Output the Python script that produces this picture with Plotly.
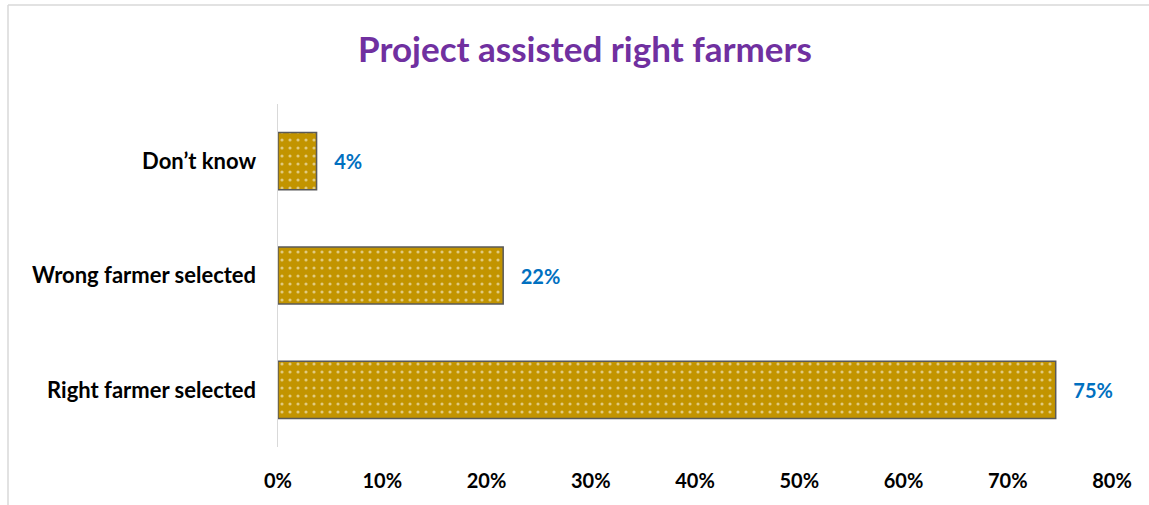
import plotly.graph_objects as go

categories = ["Right farmer selected", "Wrong farmer selected", "Don\u2019t know"]
values = [74.6, 21.6, 3.7]
tick_vals = [0, 10, 20, 30, 40, 50, 60, 70, 80]
tick_text = ["0%", "10%", "20%", "30%", "40%", "50%", "60%", "70%", "80%"]
title_text = "Project assisted right farmers"

FONT = "Lato"

fig = go.Figure()
fig.add_trace(go.Bar(
    y=categories,
    x=values,
    orientation="h",
    marker=dict(
        color="#C29400",
        line=dict(color="#595959", width=1.5),
        pattern=dict(shape=".", fgcolor="#FFFFFF", bgcolor="#C29400", size=8, solidity=0.12, fillmode="overlay"),
    ),
    texttemplate="   %{x:.0f}%",
    textposition="outside",
    textfont=dict(family=FONT, size=20, color="#0070C0", weight="bold"),
    cliponaxis=False,
    width=0.5,
    hoverinfo="skip",
))

W, H = 1149, 505
ml, mr, mt, mb = 278, 37, 104, 58
pw, ph = W - ml - mr, H - mt - mb

def px_x(p):
    return (p - ml) / pw

def px_y(p):
    return (H - mb - p) / ph

fig.update_layout(
    width=W, height=H,
    margin=dict(l=ml, r=mr, t=mt, b=mb),
    paper_bgcolor="white",
    plot_bgcolor="white",
    showlegend=False,
    title=dict(
        text="<b>" + title_text + "</b>",
        x=585 / W, xref="container", xanchor="center",
        y=(H - 50) / H, yref="container", yanchor="middle",
        font=dict(family=FONT, size=35, color="#7030A0"),
    ),
    xaxis=dict(
        range=[0, 80],
        tickvals=tick_vals,
        ticktext=tick_text,
        showgrid=False,
        zeroline=False,
        showline=False,
        ticks="",
        ticklabelstandoff=20,
        tickfont=dict(family=FONT, size=20, color="#000000", weight="bold"),
        fixedrange=True,
    ),
    yaxis=dict(
        range=[-0.5, 2.5],
        showgrid=False,
        zeroline=False,
        showline=True,
        linecolor="#D9D9D9",
        linewidth=1.5,
        ticks="",
        ticklabelstandoff=16,
        tickfont=dict(family=FONT, size=22, color="#000000", weight="bold"),
        fixedrange=True,
    ),
    shapes=[
        dict(type="line", xref="paper", yref="paper",
             x0=px_x(8), x1=px_x(8), y0=px_y(5), y1=px_y(520),
             line=dict(color="#D9D9D9", width=1.5)),
        dict(type="line", xref="paper", yref="paper",
             x0=px_x(8), x1=px_x(1170), y0=px_y(5), y1=px_y(5),
             line=dict(color="#D9D9D9", width=1.5)),
    ],
)

fig.write_html(
    "out.html",
    config={"displayModeBar": False, "staticPlot": True},
    post_script="document.body.style.margin='0px';document.body.style.overflow='hidden';",
)
